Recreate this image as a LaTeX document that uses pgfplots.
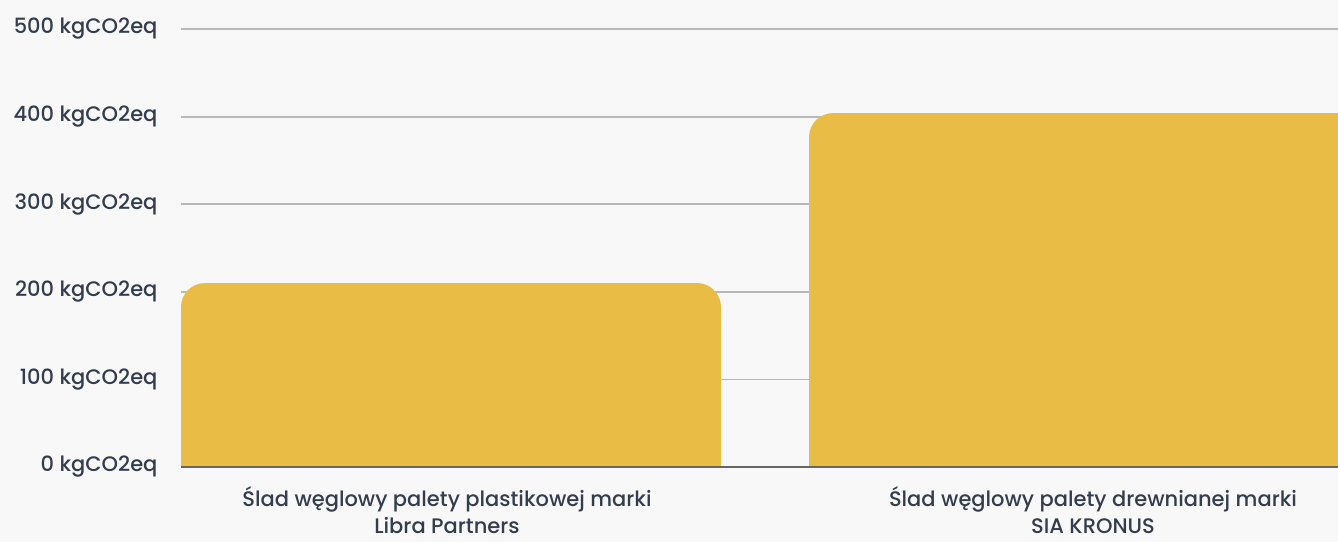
\documentclass[border=0pt]{standalone}
\usepackage{pgfplots}
\pgfplotsset{compat=1.18}
\usepackage{fontspec}
\setmainfont{Poppins}[UprightFont=* Medium]
\definecolor{bg}{HTML}{F8F8F8}
\definecolor{barc}{HTML}{E8BC45}
\definecolor{gridc}{HTML}{B8B8B8}
\definecolor{txt}{HTML}{333D4D}
\definecolor{axc}{HTML}{666666}
\begin{document}
\begin{tikzpicture}[x=1pt,y=1pt]
\fill[bg] (0,0) rectangle (1338,542);
\begin{axis}[
  at={(181pt,75pt)}, anchor=south west,
  width=1157pt, height=438pt, scale only axis,
  xmin=181, xmax=1338, ymin=0, ymax=500,
  axis line style={draw=none},
  ytick={0,100,200,300,400,500},
  yticklabels={0 kgCO2eq,100 kgCO2eq,200 kgCO2eq,300 kgCO2eq,400 kgCO2eq,500 kgCO2eq},
  yticklabel style={font=\fontsize{21}{24}\selectfont, text=txt, xshift=-20pt},
  ymajorgrids, grid style={gridc, line width=1.8pt},
  major tick length=0pt,
  xtick={447,1093},
  xticklabels={{Ślad węglowy palety plastikowej marki\\Libra Partners},{Ślad węglowy palety drewnianej marki\\SIA KRONUS}},
  xticklabel style={font=\fontsize{21}{27}\selectfont, text=txt, align=center, yshift=-16pt},
  clip=true,
]
\addplot[fill=barc, draw=none, rounded corners=24pt] coordinates {(181,-60) (181,210) (721,210) (721,-60)} -- cycle;
\addplot[fill=barc, draw=none, rounded corners=24pt] coordinates {(809,-60) (809,404) (1380,404) (1380,-60)} -- cycle;
\draw[axc, line width=1.8pt] (axis cs:181,0) -- (axis cs:1338,0);
\end{axis}
\pgfresetboundingbox
\useasboundingbox (0,0) rectangle (1338,542);
\end{tikzpicture}
\end{document}
